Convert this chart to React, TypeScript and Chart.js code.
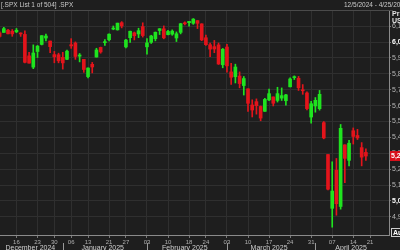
import React, { useEffect, useRef } from "react";
import { Chart, registerables } from "chart.js";

Chart.register(...registerables);

// Trading-day index of the first candle (Dec 5, 2024 = 0; Dec 10 = 3)
const firstIndex = 3;

const opens = [
  6057.59, 6060.15, 6074.29, 6068.26, 6063.79, 6052.55, 6047.65, 5912.71, 5842.0, 5940.25,
  5984.63, 6024.97, 6006.17, 5920.67, 5919.74, 5903.26, 5891.07, 5982.81, 5993.26, 5910.66,
  5890.66, 5782.21, 5859.73, 5905.21, 5965.94, 5995.82, 6014.12, 6081.39, 6076.32, 6121.43,
  5969.04, 6026.97, 6057.7, 6050.75, 6096.79, 5969.65, 5998.14, 6020.45, 6072.22, 6083.13,
  6046.4, 6049.32, 6025.08, 6060.59, 6115.52, 6121.6, 6117.76, 6134.5, 6114.1, 6026.69,
  5982.73, 5970.87, 5981.88, 5856.74, 5968.33, 5811.98, 5781.38, 5785.87, 5726.01, 5705.37,
  5603.65, 5624.84, 5594.45, 5563.85, 5635.6, 5654.53, 5632.37, 5646.92, 5630.73, 5718.08,
  5775.88, 5771.66, 5695.64, 5679.56, 5527.91, 5597.53, 5580.76, 5492.74, 5292.14, 4953.79,
  5193.57, 4965.28, 5353.15, 5255.56, 5441.96, 5411.99, 5335.75, 5305.45,
];
const highs = [
  6065.4, 6092.59, 6079.68, 6078.58, 6085.19, 6057.68, 6070.67, 5935.52, 5982.06, 5978.25,
  6040.1, 6049.75, 6006.17, 5940.79, 5929.74, 5935.09, 5949.34, 6021.04, 6000.68, 5927.89,
  5890.66, 5838.18, 5871.63, 5960.61, 5967.91, 6014.96, 6051.51, 6100.81, 6118.73, 6128.18,
  6017.17, 6069.22, 6062.83, 6086.64, 6120.91, 6022.13, 6042.48, 6062.86, 6084.03, 6101.28,
  6073.38, 6076.28, 6063.42, 6116.91, 6127.47, 6129.63, 6147.43, 6134.5, 6114.82, 6043.65,
  5992.65, 6009.82, 5993.69, 5959.4, 5986.09, 5865.08, 5860.59, 5812.08, 5783.01, 5705.37,
  5636.3, 5642.19, 5597.78, 5645.27, 5703.52, 5654.53, 5715.33, 5711.15, 5670.84, 5775.14,
  5786.95, 5783.62, 5732.28, 5685.89, 5627.56, 5650.57, 5695.31, 5499.53, 5292.14, 5246.57,
  5267.47, 5481.34, 5353.15, 5381.46, 5459.46, 5450.41, 5367.24, 5328.31,
];
const lows = [
  6029.89, 6060.15, 6051.25, 6035.77, 6059.14, 6035.19, 5867.79, 5866.07, 5832.3, 5902.57,
  5981.44, 6007.37, 5932.95, 5869.16, 5868.86, 5829.53, 5888.66, 5960.01, 5890.68, 5874.78,
  5809.11, 5773.31, 5805.7, 5905.21, 5929.41, 5978.44, 6006.88, 6076.87, 6074.67, 6088.74,
  5962.92, 5997.69, 6012.96, 6027.46, 6030.93, 5923.93, 5990.87, 6007.06, 6046.83, 6019.96,
  6044.84, 6042.34, 6003.0, 6051.0, 6107.62, 6099.51, 6111.15, 6084.59, 6008.56, 5977.83,
  5908.49, 5932.69, 5858.78, 5837.66, 5810.91, 5732.59, 5742.35, 5711.64, 5666.29, 5564.02,
  5528.41, 5546.09, 5504.65, 5563.85, 5631.12, 5597.76, 5622.2, 5632.06, 5603.1, 5718.08,
  5764.02, 5695.23, 5670.94, 5572.42, 5488.73, 5558.52, 5571.48, 5390.83, 5069.9, 4835.04,
  4910.42, 4948.43, 5115.27, 5220.77, 5358.02, 5386.44, 5220.79, 5255.58,
];
const closes = [
  6034.91, 6084.19, 6051.25, 6051.09, 6074.08, 6050.61, 5872.16, 5867.08, 5930.85, 5974.07,
  6040.04, 6037.59, 5970.84, 5906.94, 5881.63, 5868.55, 5942.47, 5975.38, 5909.03, 5918.25,
  5827.04, 5836.22, 5842.91, 5949.91, 5937.34, 5996.66, 6049.24, 6086.37, 6118.71, 6101.24,
  6012.28, 6067.7, 6039.31, 6071.17, 6040.53, 5994.57, 6037.88, 6061.48, 6083.57, 6025.99,
  6066.44, 6068.5, 6051.97, 6115.07, 6114.63, 6129.58, 6144.15, 6117.52, 6013.13, 5983.25,
  5955.25, 5956.06, 5861.57, 5954.5, 5849.72, 5778.15, 5842.63, 5738.52, 5770.2, 5614.56,
  5572.07, 5599.3, 5521.52, 5638.94, 5675.12, 5614.66, 5675.29, 5662.89, 5667.56, 5767.57,
  5776.65, 5712.2, 5693.31, 5580.94, 5611.85, 5633.07, 5670.97, 5396.52, 5074.08, 5062.25,
  4982.77, 5456.9, 5268.05, 5363.36, 5405.97, 5396.63, 5275.7, 5282.7,
];

const weekTickIndex = [7, 12, 16, 20, 24, 29, 33, 38, 43, 48, 52, 57, 62, 67, 72, 77, 82, 87, 91];
const weekTickLabels = ["16", "23", "30", "06", "13", "21", "27", "03", "10", "18", "24", "03", "10", "17", "24", "31", "07", "14", "21"];
const monthNames = ["December 2024", "January 2025", "February 2025", "March 2025", "April 2025"];
const monthStartIndex = [0, 18, 38, 57, 78];
const monthEndIndex = [17, 37, 56, 77, 95];
const priceTicks = [4900, 5000, 5100, 5200, 5300, 5400, 5500, 5600, 5700, 5800, 5900, 6000, 6100];
const headerLeft = "[.SPX List 1 of 504] .SPX";
const headerRight = "12/5/2024 - 4/25/2025";
const lastPrice = 5282.7;

const X_MIN = 3.09;
const X_MAX = 95.49;
const Y_MIN = 4786;
const Y_MAX = 6195;

const BG = "#1e1e1e";
const GRID = "#2f2f2f";
const AXIS = "#8a8a8a";
const GREEN = "#1fe31f";
const RED = "#e3141b";
const FONT = "'Liberation Sans', Arial, sans-serif";

const candleColor = (ctx: any) => {
  const k = ctx.dataIndex;
  return closes[k] >= opens[k] ? GREEN : RED;
};

const decor = {
  id: "decor",
  beforeDraw(chart: any) {
    const { ctx, width, height } = chart;
    ctx.save();
    ctx.fillStyle = BG;
    ctx.fillRect(0, 0, width, height);
    ctx.restore();
  },
  afterDraw(chart: any) {
    const { ctx, chartArea, scales } = chart;
    const xs = scales.x;
    const ys = scales.y;
    ctx.save();
    // header
    ctx.font = `6.5px ${FONT}`;
    ctx.fillStyle = "#c9c9c9";
    ctx.textBaseline = "middle";
    ctx.textAlign = "left";
    ctx.fillText(headerLeft, 1, 5.5);
    ctx.fillText(headerRight, 344, 5.5);
    ctx.strokeStyle = "#4a4a4a";
    ctx.lineWidth = 1;
    ctx.beginPath();
    ctx.moveTo(0, 10.5);
    ctx.lineTo(chartArea.right + 4, 10.5);
    ctx.stroke();
    // Price / USD
    ctx.font = `bold 7px ${FONT}`;
    ctx.fillStyle = "#e6e6e6";
    ctx.fillText("Price", 392, 14);
    ctx.fillText("USD", 392, 21);
    // month labels
    ctx.font = `7px ${FONT}`;
    ctx.fillStyle = "#cfcfcf";
    ctx.textAlign = "center";
    monthNames.forEach((name, m) => {
      const a = Math.max(monthStartIndex[m] - 0.5, X_MIN);
      const b = Math.min(monthEndIndex[m] + 0.5, X_MAX);
      const cx = (xs.getPixelForValue(a) + xs.getPixelForValue(b)) / 2;
      ctx.fillText(name, cx, 248.5);
    });
    ctx.strokeStyle = "#9a9a9a";
    monthStartIndex.forEach((s) => {
      if (s <= X_MIN) return;
      const px = Math.round(xs.getPixelForValue(s)) + 0.5;
      ctx.beginPath();
      ctx.moveTo(px, 243);
      ctx.lineTo(px, 250);
      ctx.stroke();
    });
    // last price box
    const py = ys.getPixelForValue(lastPrice);
    ctx.fillStyle = "#d8101a";
    ctx.fillRect(chartArea.right + 1, py - 5, 20, 10);
    ctx.fillStyle = "#ffffff";
    ctx.textAlign = "left";
    ctx.font = `bold 7px ${FONT}`;
    ctx.fillText(lastPrice.toLocaleString("en-US", { minimumFractionDigits: 2 }), chartArea.right + 2, py);
    // Auto box
    ctx.fillStyle = BG;
    ctx.fillRect(chartArea.right + 2, 228, 20, 9);
    ctx.strokeStyle = "#cfcfcf";
    ctx.strokeRect(chartArea.right + 2.5, 228.5, 20, 8);
    ctx.fillStyle = "#ffffff";
    ctx.font = `bold 7px ${FONT}`;
    ctx.fillText("Auto", chartArea.right + 4, 233);
    ctx.restore();
  },
};

export default function App() {
  const ref = useRef<HTMLCanvasElement>(null);
  useEffect(() => {
    const canvas = ref.current;
    if (!canvas) return;
    const wickData = closes.map((_, k) => ({ x: firstIndex + k, y: [lows[k], highs[k]] }));
    const bodyData = closes.map((_, k) => ({ x: firstIndex + k, y: [opens[k], closes[k]] }));
    const chart = new Chart(canvas, {
      type: "bar",
      data: {
        datasets: [
          {
            label: "wick",
            data: wickData as any,
            backgroundColor: candleColor,
            barThickness: 1,
            grouped: false,
            order: 2,
          } as any,
          {
            label: "body",
            data: bodyData as any,
            backgroundColor: candleColor,
            barThickness: 3,
            minBarLength: 1,
            grouped: false,
            order: 1,
          } as any,
        ],
      },
      options: {
        responsive: false,
        maintainAspectRatio: false,
        animation: false,
        layout: { padding: { top: 11, left: 0, right: 0, bottom: 0 } },
        plugins: { legend: { display: false }, tooltip: { enabled: false } },
        scales: {
          x: {
            type: "linear",
            min: X_MIN,
            max: X_MAX,
            offset: false,
            grid: { color: GRID, offset: false, tickLength: 3, tickColor: "#777" },
            border: { color: AXIS },
            ticks: {
              autoSkip: false,
              maxRotation: 0,
              padding: 1,
              color: "#b0b0b0",
              font: { size: 6, family: FONT },
              callback: (v: any) => {
                const i = weekTickIndex.indexOf(Number(v));
                return i >= 0 ? weekTickLabels[i] : "";
              },
            },
            afterBuildTicks: (s: any) => {
              s.ticks = weekTickIndex.map((v) => ({ value: v }));
            },
            afterFit: (s: any) => {
              s.height = 15;
            },
          },
          y: {
            type: "linear",
            position: "right",
            min: Y_MIN,
            max: Y_MAX,
            grid: { color: GRID, tickLength: 2, tickColor: "#777" },
            border: { color: AXIS },
            ticks: {
              autoSkip: false,
              padding: 1,
              color: (c: any) => (c.tick && c.tick.value % 1000 === 0 ? "#ffffff" : "#b8b8b8"),
              font: (c: any) => ({
                size: 7,
                family: FONT,
                weight: c.tick && c.tick.value % 1000 === 0 ? "bold" : "normal",
              }),
              callback: (v: any) => Number(v).toLocaleString("en-US"),
            },
            afterBuildTicks: (s: any) => {
              s.ticks = priceTicks.map((v) => ({ value: v }));
            },
            afterFit: (s: any) => {
              s.width = 11;
            },
          },
        },
      } as any,
      plugins: [decor],
    });
    return () => chart.destroy();
  }, []);
  return (
    <div style={{ position: "fixed", left: 0, top: 0, width: 400, height: 250, background: BG }}>
      <canvas ref={ref} width={400} height={250} style={{ display: "block" }} />
    </div>
  );
}
